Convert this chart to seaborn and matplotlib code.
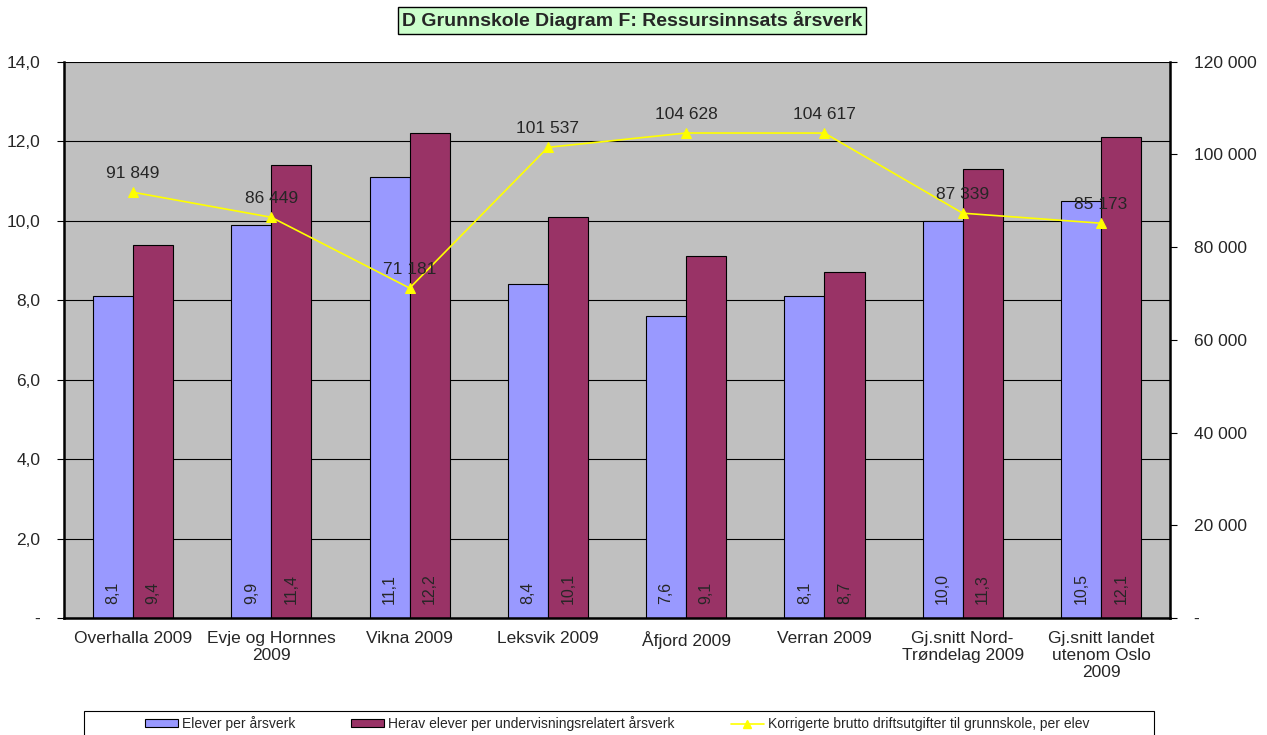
"""
D Grunnskole Diagram F: Ressursinnsats årsverk
"""

import matplotlib
matplotlib.use("Agg")
import matplotlib.pyplot as plt
from matplotlib.patches import Patch, Rectangle
from matplotlib.lines import Line2D
from matplotlib.ticker import FuncFormatter, MultipleLocator
import seaborn as sns
import pandas as pd
import numpy as np

kommuner = [
    "Overhalla 2009",
    "Evje og Hornnes\n2009",
    "Vikna 2009",
    "Leksvik 2009",
    "Åfjord 2009",
    "Verran 2009",
    "Gj.snitt Nord-\nTrøndelag 2009",
    "Gj.snitt landet\nutenom Oslo\n2009",
]
elever_per_aarsverk = [8.1, 9.9, 11.1, 8.4, 7.6, 8.1, 10.0, 10.5]
elever_per_undervisning = [9.4, 11.4, 12.2, 10.1, 9.1, 8.7, 11.3, 12.1]
utgift_per_elev = [91849, 86449, 71181, 101537, 104628, 104617, 87339, 85173]

serie_navn = [
    "Elever per årsverk",
    "Herav elever per undervisningsrelatert årsverk",
    "Korrigerte brutto driftsutgifter til grunnskole, per elev",
]
farger = ["#9999FF", "#993366", "#FFFF00"]

sns.set_style("white")
plt.rcParams["font.family"] = ["Liberation Sans", "DejaVu Sans"]

df = pd.DataFrame({
    "kommune": kommuner * 2,
    "serie": [serie_navn[0]] * len(kommuner) + [serie_navn[1]] * len(kommuner),
    "verdi": elever_per_aarsverk + elever_per_undervisning,
})

fig = plt.figure(figsize=(12.67, 7.35), dpi=100)
ax = fig.add_axes([0.0505, 0.159, 0.873, 0.757])
ax.set_facecolor("#C0C0C0")

sns.barplot(data=df, x="kommune", y="verdi", hue="serie", palette=farger[:2],
            saturation=1, width=0.58, gap=0, edgecolor="black", linewidth=0.8,
            legend=False, ax=ax)

# verdier inne i stolpene, nederst og rotert
for cont in ax.containers:
    for bar in cont:
        h = bar.get_height()
        ax.annotate(f"{h:.1f}".replace(".", ","),
                    xy=(bar.get_x() + bar.get_width() / 2, 0),
                    xytext=(0, 10), textcoords="offset points",
                    rotation=90, ha="center", va="bottom", fontsize=11.5)

ax.set_ylim(0, 14)
ax.set_xlim(-0.5, len(kommuner) - 0.5)
ax.yaxis.set_major_locator(MultipleLocator(2))
ax.yaxis.set_major_formatter(FuncFormatter(
    lambda v, p: "-" if v == 0 else f"{v:.1f}".replace(".", ",")))
ax.grid(axis="y", color="black", linewidth=0.8)
ax.set_axisbelow(True)
ax.set_xlabel("")
ax.set_ylabel("")
ax.tick_params(axis="x", which="major", length=0, labelsize=12.5, pad=9)
ax.set_xticks(np.arange(-0.5, len(kommuner)), minor=True)
ax.tick_params(axis="x", which="minor", length=5, direction="out", color="black")
ax.tick_params(axis="y", length=5, direction="out", labelsize=12.5, color="black", pad=12)
for s in ["left", "bottom"]:
    ax.spines[s].set_color("black")
    ax.spines[s].set_linewidth(1.8)
ax.spines["top"].set_visible(False)
ax.spines["right"].set_visible(False)

# linje på sekundærakse
ax2 = ax.twinx()
sns.lineplot(x=np.arange(len(kommuner)), y=utgift_per_elev, color=farger[2],
             marker="^", markersize=7, markeredgecolor=farger[2],
             linewidth=1.2, ax=ax2)
for i, v in enumerate(utgift_per_elev):
    ax2.annotate(f"{v:,}".replace(",", " "), xy=(i, v), xytext=(0, 8),
                 textcoords="offset points", ha="center", va="bottom", fontsize=12.5)
ax2.set_ylim(0, 120000)
ax2.yaxis.set_major_locator(MultipleLocator(20000))
ax2.yaxis.set_major_formatter(FuncFormatter(
    lambda v, p: "-" if v == 0 else f"{v:,.0f}".replace(",", " ")))
ax2.set_ylabel("")
ax2.spines["right"].set_color("black")
ax2.spines["right"].set_linewidth(1.8)
for s in ["top", "left", "bottom"]:
    ax2.spines[s].set_visible(False)
ax2.tick_params(axis="y", which="major", right=True, length=5, direction="out",
                labelsize=12.5, color="black", pad=12)

fig.text(0.499, 0.972, "D Grunnskole Diagram F: Ressursinnsats årsverk",
         ha="center", va="center", fontsize=14, fontweight="bold",
         bbox=dict(facecolor="#CCFFCC", edgecolor="black", boxstyle="square,pad=0.2"))

# forklaring
handles = [
    Patch(facecolor=farger[0], edgecolor="black", linewidth=0.8),
    Patch(facecolor=farger[1], edgecolor="black", linewidth=0.8),
    Line2D([0], [0], color=farger[2], marker="^", markersize=6, linewidth=1.2),
]
fig.patches.append(Rectangle((0.0665, -0.01), 0.844, 0.043, transform=fig.transFigure,
                             facecolor="white", edgecolor="black", linewidth=0.8))
fig.legend(handles, serie_navn, loc="center", bbox_to_anchor=(0.487, 0.0155),
           ncol=3, frameon=False, fontsize=10, columnspacing=4.0,
           handlelength=2.4, handleheight=0.45, handletextpad=0.3)

fig.savefig("out.png", dpi=100)
